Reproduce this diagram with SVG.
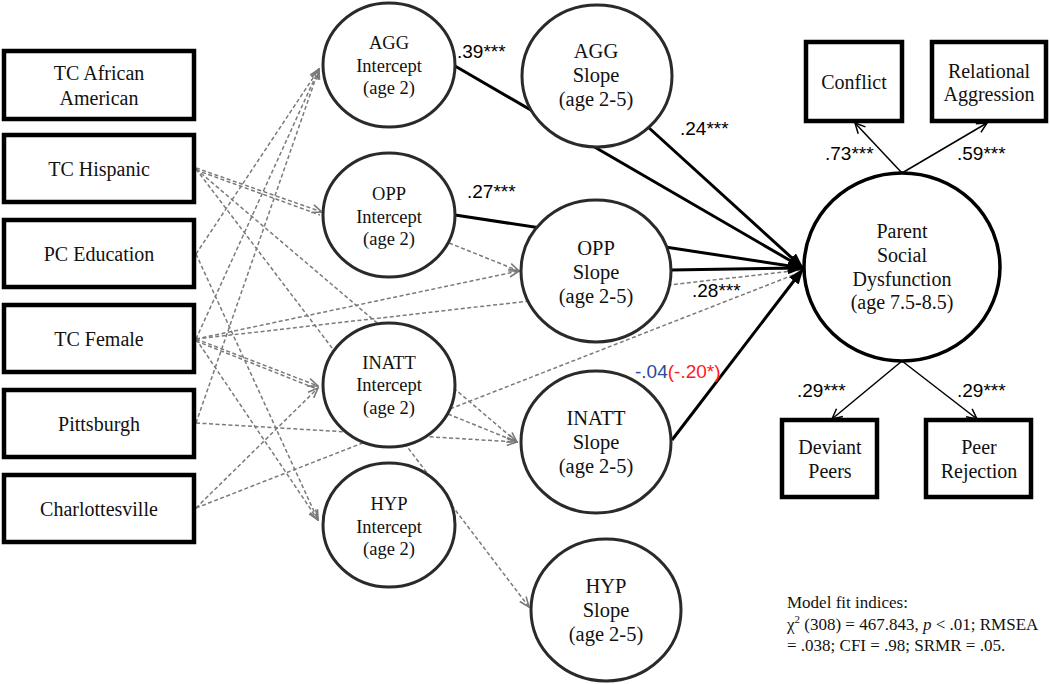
<svg xmlns="http://www.w3.org/2000/svg" width="1050" height="684" viewBox="0 0 1050 684">
<defs>
<style>
.box{fill:#fff;stroke:#000;stroke-width:4.5}
.lat{fill:#fff;stroke:#2a2a2a;stroke-width:3}
.t{font-family:"Liberation Serif","Times New Roman",serif;font-size:20px;fill:#111;text-anchor:middle}
.ti{font-family:"Liberation Serif","Times New Roman",serif;font-size:18.5px;fill:#111;text-anchor:middle}
.ts{font-family:"Liberation Serif","Times New Roman",serif;font-size:20.5px;fill:#111;text-anchor:middle}
.c{font-family:"Liberation Sans",Arial,sans-serif;font-size:19px;fill:#000}
.fit{font-family:"Liberation Serif","Times New Roman",serif;font-size:17px;fill:#111}
.d{stroke:#7a7a7a;stroke-width:1.5;stroke-dasharray:4 2.5;fill:none;marker-end:url(#ga)}
.dn{stroke:#7a7a7a;stroke-width:1.5;stroke-dasharray:4 2.5;fill:none}
.s{stroke:#000;stroke-width:3;fill:none;marker-end:url(#ba)}
.ind{stroke:#000;stroke-width:1.5;fill:none;marker-end:url(#oa)}
</style>
<marker id="ga" markerUnits="userSpaceOnUse" markerWidth="12" markerHeight="10" refX="11" refY="5" orient="auto" viewBox="0 0 12 10">
<path d="M1,1 L11,5 L1,9" fill="none" stroke="#7a7a7a" stroke-width="1.6"/>
</marker>
<marker id="ba" markerUnits="userSpaceOnUse" markerWidth="16" markerHeight="12" refX="15" refY="6" orient="auto" viewBox="0 0 16 12">
<path d="M0,0 L16,6 L0,12 Z" fill="#000"/>
</marker>
<marker id="oa" markerUnits="userSpaceOnUse" markerWidth="12" markerHeight="12" refX="11" refY="6" orient="auto" viewBox="0 0 12 12">
<path d="M1,1 L11,6 L1,11" fill="none" stroke="#000" stroke-width="1.5"/>
</marker>
</defs>
<rect width="1050" height="684" fill="#fff"/>

<g id="connectors">
<line class="d" x1="196" y1="168" x2="322" y2="212"/>
<line class="dn" x1="196" y1="170" x2="320" y2="215"/>
<line class="d" x1="196" y1="169" x2="517" y2="442"/>
<line class="d" x1="196" y1="169" x2="529" y2="607"/>
<line class="d" x1="196" y1="254" x2="319" y2="69"/>
<line class="d" x1="196" y1="254" x2="318" y2="520"/>
<line class="d" x1="196" y1="339" x2="319" y2="69"/>
<line class="d" x1="196" y1="339" x2="519" y2="271"/>
<line class="dn" x1="196" y1="339" x2="801" y2="270"/>
<line class="d" x1="196" y1="339" x2="318" y2="386"/>
<line class="dn" x1="196" y1="341" x2="317" y2="389"/>
<line class="d" x1="196" y1="339" x2="318" y2="520"/>
<line class="d" x1="196" y1="423" x2="319" y2="69"/>
<line class="d" x1="196" y1="423" x2="517" y2="442"/>
<line class="d" x1="196" y1="508" x2="318" y2="388"/>
<line class="dn" x1="196" y1="508" x2="801" y2="272"/>
<line class="d" x1="449" y1="243" x2="519" y2="271"/>
<line class="d" x1="448" y1="414" x2="517" y2="442"/>

<line class="s" x1="455" y1="66" x2="803" y2="268"/>
<line class="s" x1="455" y1="215" x2="803" y2="268"/>
<line class="s" x1="648" y1="127" x2="803" y2="268"/>
<line class="s" x1="671" y1="270" x2="803" y2="268"/>
<line class="s" x1="672" y1="440" x2="803" y2="269"/>

<line class="ind" x1="902" y1="173" x2="855" y2="123"/>
<line class="ind" x1="902" y1="173" x2="987" y2="123"/>
<line class="ind" x1="902" y1="361" x2="832" y2="419"/>
<line class="ind" x1="902" y1="361" x2="977" y2="419"/>
</g>

<g id="n-tc-aa"><rect class="box" x="4" y="51" width="190" height="68"/><text class="t" x="99" y="80">TC African</text><text class="t" x="99" y="105">American</text></g>
<g id="n-tc-hisp"><rect class="box" x="4" y="135" width="190" height="67"/><text class="t" x="99" y="176">TC Hispanic</text></g>
<g id="n-pc-edu"><rect class="box" x="4" y="220" width="190" height="67"/><text class="t" x="99" y="261">PC Education</text></g>
<g id="n-tc-fem"><rect class="box" x="4" y="305" width="190" height="67"/><text class="t" x="99" y="346">TC Female</text></g>
<g id="n-pitt"><rect class="box" x="4" y="390" width="190" height="67"/><text class="t" x="99" y="431">Pittsburgh</text></g>
<g id="n-charl"><rect class="box" x="4" y="475" width="190" height="67"/><text class="t" x="99" y="516">Charlottesville</text></g>

<g id="n-agg-int"><ellipse class="lat" cx="389" cy="65" rx="66" ry="62"/><text class="ti" x="389" y="49">AGG</text><text class="ti" x="389" y="72">Intercept</text><text class="ti" x="389" y="94">(age 2)</text></g>
<g id="n-opp-int"><ellipse class="lat" cx="389" cy="215" rx="66" ry="62"/><text class="ti" x="389" y="200">OPP</text><text class="ti" x="389" y="223">Intercept</text><text class="ti" x="389" y="245">(age 2)</text></g>
<g id="n-inatt-int"><ellipse class="lat" cx="389" cy="385" rx="66" ry="62"/><text class="ti" x="389" y="369">INATT</text><text class="ti" x="389" y="391">Intercept</text><text class="ti" x="389" y="414">(age 2)</text></g>
<g id="n-hyp-int"><ellipse class="lat" cx="389" cy="525" rx="66" ry="62"/><text class="ti" x="389" y="510">HYP</text><text class="ti" x="389" y="533">Intercept</text><text class="ti" x="389" y="555">(age 2)</text></g>

<g id="n-agg-slope"><ellipse class="lat" cx="597" cy="76" rx="75" ry="71"/><text class="ts" x="596" y="58">AGG</text><text class="ts" x="596" y="82">Slope</text><text class="ts" x="596" y="106">(age 2-5)</text></g>
<g id="n-opp-slope"><ellipse class="lat" cx="596" cy="271" rx="75" ry="71"/><text class="ts" x="596" y="255">OPP</text><text class="ts" x="596" y="279">Slope</text><text class="ts" x="596" y="303">(age 2-5)</text></g>
<g id="n-inatt-slope"><ellipse class="lat" cx="596" cy="442" rx="75" ry="71"/><text class="ts" x="596" y="425">INATT</text><text class="ts" x="596" y="449">Slope</text><text class="ts" x="596" y="473">(age 2-5)</text></g>
<g id="n-hyp-slope"><ellipse class="lat" cx="606" cy="610" rx="75" ry="71"/><text class="ts" x="606" y="593">HYP</text><text class="ts" x="606" y="617">Slope</text><text class="ts" x="606" y="641">(age 2-5)</text></g>

<g id="n-psd"><ellipse cx="902" cy="267" rx="98" ry="94" fill="#fff" stroke="#000" stroke-width="3.5"/><text class="t" x="902" y="238">Parent</text><text class="t" x="902" y="262">Social</text><text class="t" x="902" y="286">Dysfunction</text><text class="t" x="902" y="309">(age 7.5-8.5)</text></g>

<g id="n-conflict"><rect class="box" x="806" y="42" width="96" height="79"/><text class="t" x="854" y="89">Conflict</text></g>
<g id="n-relagg"><rect class="box" x="932" y="42" width="114" height="79"/><text class="t" x="989" y="78">Relational</text><text class="t" x="989" y="101">Aggression</text></g>
<g id="n-deviant"><rect class="box" x="782" y="420" width="95" height="77"/><text class="t" x="830" y="454">Deviant</text><text class="t" x="830" y="478">Peers</text></g>
<g id="n-peerrej"><rect class="box" x="926" y="420" width="105" height="77"/><text class="t" x="979" y="454">Peer</text><text class="t" x="979" y="478">Rejection</text></g>

<g id="labels">
<text class="c" x="457" y="58">.39***</text>
<text class="c" x="467" y="198">.27***</text>
<text class="c" x="680" y="135">.24***</text>
<text class="c" x="692" y="297">.28***</text>
<text class="c" x="825" y="160">.73***</text>
<text class="c" x="957" y="160">.59***</text>
<text class="c" x="797" y="397">.29***</text>
<text class="c" x="957" y="397">.29***</text>
<text class="c" x="635" y="378"><tspan fill="#2a4a9c">-.04</tspan><tspan fill="#ff1a1a">(-.20*)</tspan></text>
</g>

<g id="fit">
<text class="fit" x="787" y="608">Model fit indices:</text>
<text class="fit" x="787" y="630">χ<tspan font-size="11" dy="-7">2</tspan><tspan dy="7"> (308) = 467.843, </tspan><tspan font-style="italic">p</tspan> &lt; .01; RMSEA</text>
<text class="fit" x="787" y="651">= .038; CFI = .98; SRMR = .05.</text>
</g>
</svg>
